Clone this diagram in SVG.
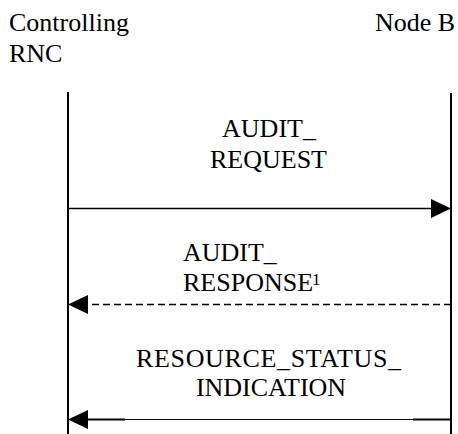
<svg xmlns="http://www.w3.org/2000/svg" width="458" height="434" viewBox="0 0 458 434">
<style>
.t{font-family:'Liberation Serif','Times New Roman',Times,serif;font-size:26px;fill:#000}
.life{stroke:#000;stroke-width:2;fill:none}
.msg{stroke:#000;stroke-width:1.5;fill:none}
.head{fill:#000;stroke:none}
</style>
<rect width="458" height="434" fill="#fff"/>
<g id="rnc">
<text class="t" x="9" y="31">Controlling</text>
<text class="t" x="9" y="62">RNC</text>
<line class="life" x1="68" y1="92" x2="68" y2="434"/>
</g>
<g id="nodeb">
<text class="t" x="375" y="31">Node B</text>
<line class="life" x1="451" y1="93" x2="451" y2="434"/>
</g>
<g id="connectors">
<g id="audit_request">
<line class="msg" x1="68" y1="208.5" x2="433" y2="208.5"/>
<polygon class="head" points="431,199 451,208.5 431,218"/>
<text class="t" x="269" y="137" text-anchor="middle">AUDIT_</text>
<text class="t" x="268.5" y="168" text-anchor="middle">REQUEST</text>
</g>
<g id="audit_response">
<line class="msg" x1="451" y1="304.5" x2="86" y2="304.5" stroke-dasharray="7 4"/>
<polygon class="head" points="88,295 68,304.5 88,314"/>
<text class="t" x="183" y="261">AUDIT_</text>
<text class="t" x="183" y="291">RESPONSE<tspan font-size="17" dy="-6" dx="-1">1</tspan></text>
</g>
<g id="resource_status_indication">
<line stroke="#000" stroke-width="1.2" x1="125" y1="419.5" x2="413" y2="419.5"/>
<line stroke="#000" stroke-width="2" x1="86" y1="419.5" x2="125" y2="419.5"/>
<line stroke="#000" stroke-width="2" x1="413" y1="419.5" x2="451" y2="419.5"/>
<polygon class="head" points="88,410 68,419.5 88,429"/>
<text class="t" x="136" y="367" textLength="265" lengthAdjust="spacing">RESOURCE_STATUS_</text>
<text class="t" x="271" y="396" text-anchor="middle">INDICATION</text>
</g>
</g>
</svg>
